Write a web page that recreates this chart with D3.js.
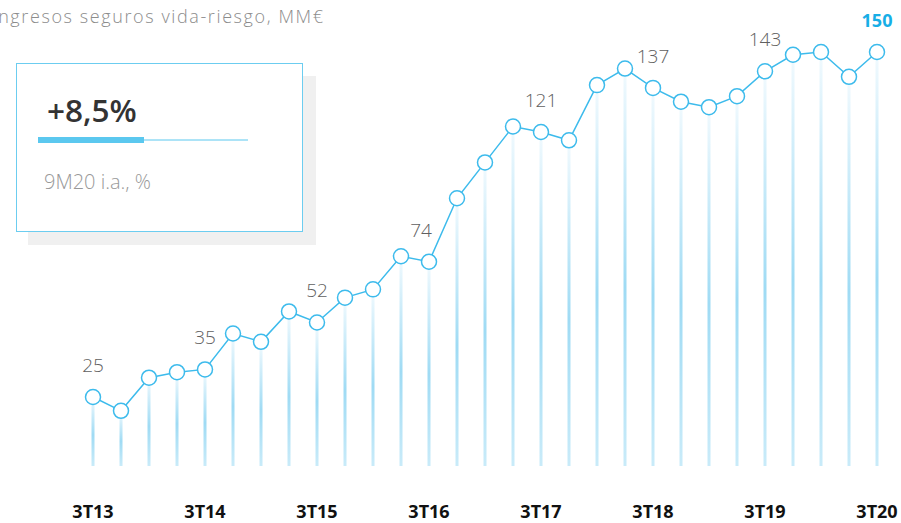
<!DOCTYPE html>
<html>
<head>
<meta charset="utf-8">
<script src="https://cdn.jsdelivr.net/npm/d3@7"></script>
<style>
  body { margin: 0; background: #fff; }
  svg { display: block; font-family: "Open Sans", "Noto Sans", sans-serif; }
</style>
</head>
<body>
<div id="chart"></div>
<script>
// quarters, 3T13 .. 3T20
var quarters = ["3T13", "4T13", "1T14", "2T14", "3T14", "4T14", "1T15", "2T15", "3T15", "4T15",
    "1T16", "2T16", "3T16", "4T16", "1T17", "2T17", "3T17", "4T17", "1T18", "2T18",
    "3T18", "4T18", "1T19", "2T19", "3T19", "4T19", "1T20", "2T20", "3T20"];

// ingresos seguros vida-riesgo, MM€
var ingresos = [25, 20, 32, 34, 35, 48, 45, 56, 52, 61,
    64, 76, 74, 97, 110, 123, 121, 118, 138, 144,
    137, 132, 130, 134, 143, 149, 150, 141, 150];

var tickLabels = ["3T13", "3T14", "3T15", "3T16", "3T17", "3T18", "3T19", "3T20"];

var kpiValue = "+8,5%";
var kpiLabel = "9M20 i.a., %";
var title = "Ingresos seguros vida-riesgo, MM€";

var width = 901;
var height = 523;
var blue = "#3dbbec";

var svg = d3.select("#chart").append("svg")
    .attr("width", width)
    .attr("height", height);

var defs = svg.append("defs");
var grad = defs.append("linearGradient")
    .attr("id", "stem")
    .attr("x1", 0).attr("y1", 0).attr("x2", 0).attr("y2", 1);
grad.append("stop").attr("offset", "0%").attr("stop-color", "#f2fafe");
grad.append("stop").attr("offset", "55%").attr("stop-color", "#9fdbf4");
grad.append("stop").attr("offset", "100%").attr("stop-color", "#c9ebf9");

var x = d3.scalePoint()
    .domain(quarters)
    .range([93, 877]);

var y = d3.scaleLinear()
    .domain([0, 150])
    .range([466, 52]);

// title (first letter is cut off on the left, as in the original slide)
svg.append("text")
    .attr("x", -8)
    .attr("y", 23)
    .attr("font-size", 18)
    .attr("font-weight", 300)
    .attr("letter-spacing", 1.6)
    .attr("fill", "#8c8c8c")
    .text(title);

// kpi box
svg.append("rect")
    .attr("x", 28).attr("y", 76)
    .attr("width", 288).attr("height", 169)
    .attr("fill", "#f0f0f0");

svg.append("rect")
    .attr("x", 16.5).attr("y", 63.5)
    .attr("width", 286).attr("height", 168)
    .attr("fill", "#fff")
    .attr("stroke", "#6ccdf0")
    .attr("stroke-width", 1);

svg.append("text")
    .attr("x", 47)
    .attr("y", 122)
    .attr("font-size", 31.5)
    .attr("font-weight", 600)
    .attr("fill", "#333")
    .text(kpiValue);

svg.append("line")
    .attr("x1", 144).attr("x2", 248)
    .attr("y1", 140).attr("y2", 140)
    .attr("stroke", "#5bc8ef")
    .attr("stroke-width", 1);

svg.append("rect")
    .attr("x", 38).attr("y", 137)
    .attr("width", 106).attr("height", 6)
    .attr("fill", "#5bc8ef");

svg.append("text")
    .attr("x", 44)
    .attr("y", 189)
    .attr("font-size", 20)
    .attr("font-weight", 300)
    .attr("fill", "#999")
    .text(kpiLabel);

// stems
svg.selectAll("rect.stem")
    .data(ingresos)
    .enter().append("rect")
    .attr("class", "stem")
    .attr("x", function (d, i) { return x(quarters[i]) - 1.5; })
    .attr("y", function (d) { return y(d); })
    .attr("width", 3)
    .attr("height", function (d) { return y(0) - y(d); })
    .attr("fill", "url(#stem)");

// line
var line = d3.line()
    .x(function (d, i) { return x(quarters[i]); })
    .y(function (d) { return y(d); });

svg.append("path")
    .datum(ingresos)
    .attr("d", line)
    .attr("fill", "none")
    .attr("stroke", blue)
    .attr("stroke-width", 1.5);

svg.selectAll("circle")
    .data(ingresos)
    .enter().append("circle")
    .attr("cx", function (d, i) { return x(quarters[i]); })
    .attr("cy", function (d) { return y(d); })
    .attr("r", 7.5)
    .attr("fill", "#fff")
    .attr("stroke", blue)
    .attr("stroke-width", 1.5);

// value labels on the 3T quarters
var labelled = quarters.map(function (q, i) { return {q: q, v: ingresos[i]}; })
    .filter(function (d) { return tickLabels.indexOf(d.q) >= 0; });

svg.selectAll("text.val")
    .data(labelled)
    .enter().append("text")
    .attr("class", "val")
    .attr("x", function (d) { return x(d.q) + (d.q === "3T16" ? -8 : 0); })
    .attr("y", function (d) { return y(d.v) - 25; })
    .attr("text-anchor", "middle")
    .attr("font-size", function (d) { return d.q === "3T20" ? 18 : 19; })
    .attr("font-weight", function (d) { return d.q === "3T20" ? 700 : 300; })
    .attr("fill", function (d) { return d.q === "3T20" ? "#17aee6" : "#606060"; })
    .text(function (d) { return d.v; });

// x axis labels
svg.selectAll("text.tick")
    .data(tickLabels)
    .enter().append("text")
    .attr("class", "tick")
    .attr("x", function (d) { return x(d); })
    .attr("y", 518)
    .attr("text-anchor", "middle")
    .attr("font-size", 18)
    .attr("font-weight", 700)
    .attr("fill", "#111")
    .text(function (d) { return d; });
</script>
</body>
</html>
